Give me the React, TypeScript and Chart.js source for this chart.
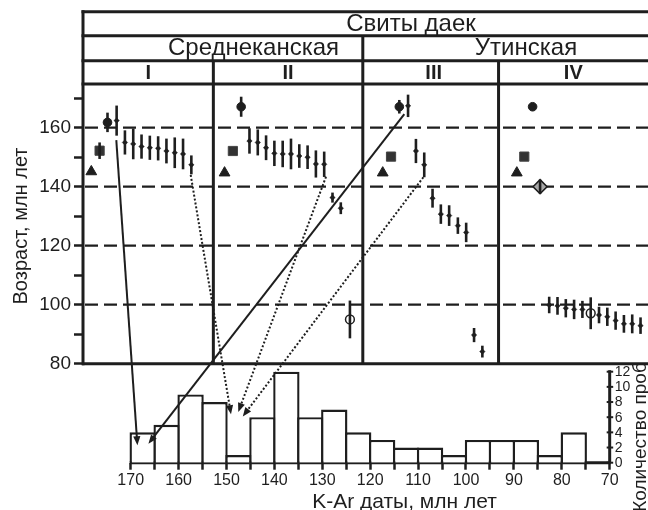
import React, { useEffect, useRef } from "react";
import { Chart, registerables } from "chart.js";

Chart.register(...registerables);

// ---------- Top panel: sample position along section, K-Ar age (Ma) ----------
const triX = [0.95, 17, 36.05, 52.2];
const triY = [145.1, 144.7, 144.7, 144.7];

const sqX = [1.95, 18, 37.05, 53.1];
const sqY = [152.2, 152.1, 150.2, 150.2];
const sqErr = [2.8, 0, 0, 0];

const circX = [2.9, 19, 38.05, 54.1];
const circY = [161.8, 167.1, 167.1, 167.1];
const circErr = [3.3, 3.4, 2.3, 0];

const ebX = [
  4, 5, 6, 7, 8, 9, 10, 11, 12, 13,
  20, 21, 22, 23, 24, 25, 26, 27, 28, 29, 30, 31,
  39.1, 40.05, 41.05, 42.05, 43.05, 44.05, 45.1, 46.1, 47.05, 48.05,
  56.1, 57.1, 58.1, 59.1, 60.1, 62.1, 63.1, 64.1, 65.1, 66.1, 67.1,
];
const ebY = [
  162.4, 155.0, 154.5, 153.6, 153.2, 153.0, 152.1, 151.5, 151.1, 147.4,
  155.5, 155.0, 153.2, 151.3, 151.1, 151.1, 150.4, 150.0, 147.7, 147.6, 136.3, 132.7,
  167.4, 152.1, 147.4, 136.1, 130.7, 130.2, 126.8, 124.5, 89.7, 84.1,
  99.9, 99.6, 98.8, 98.4, 98.4, 96.5, 95.9, 94.6, 93.5, 93.5, 92.9,
];
const ebErr = [
  5.1, 4.1, 5.2, 4.1, 4.1, 4.1, 4.2, 5.2, 5.2, 3.2,
  4.3, 4.4, 4.2, 4.3, 4.5, 5.2, 4.0, 4.0, 4.6, 4.3, 1.7, 2.0,
  3.8, 4.1, 4.2, 3.2, 3.3, 3.5, 2.8, 3.3, 2.4, 2.0,
  2.8, 3.0, 3.1, 3.3, 2.9, 2.8, 3.1, 3.1, 3.0, 3.2, 2.8,
];

const openX = [32.1, 61.1];
const openY = [95.0, 97.1];
const openErr = [6.4, 5.4];

const diaX = [55.0];
const diaY = [140.0];
const diaErr = [2.4];

// zone boundaries (sample-position units) and labels
const zoneEdges = [15.65, 33.65, 50];
const zoneLabels = ["I", "II", "III", "IV"];
const groupLabels = ["Среднеканская", "Утинская"];
const headerTitle = "Свиты даек";

const ageTickMarks = [80, 90, 100, 110, 120, 130, 140, 150, 160, 170];
const ageTickLabels = [80, 100, 120, 140, 160];
const dashedLevels = [100, 120, 140, 160];

// ---------- Histogram of K-Ar dates ----------
const binStart = [170, 165, 160, 155, 150, 145, 140, 135, 130, 125, 120, 115, 110, 105, 100, 95, 90, 85, 80, 75];
const binCounts = [4, 5, 9, 8, 1, 6, 12, 6, 7, 4, 3, 2, 2, 1, 3, 3, 3, 1, 4, 0];
const dateTickMarks = [70, 75, 80, 85, 90, 95, 100, 105, 110, 115, 120, 125, 130, 135, 140, 145, 150, 155, 160, 165, 170];
const dateTickLabels = [70, 80, 90, 100, 110, 120, 130, 140, 150, 160, 170];
const countTicks = [0, 2, 4, 6, 8, 10, 12];

// ---------- Connector arrows: from [position, age] to [date, count] ----------
const arrowFromPos = [3.96, 38.65, 12.92, 29.22, 40.94];
const arrowFromAge = [155.8, 164.6, 144.0, 143.4, 143.2];
const arrowToDate = [168.6, 166.3, 149.06, 147.54, 146.6];
const arrowToCount = [2.3, 2.5, 6.4, 6.7, 6.1];
const arrowDotted = [false, false, true, true, true];

const INK = "#1e1e1e";
const FONT = "'Liberation Sans', Arial, Helvetica, sans-serif";

const pts = (xs: number[], ys: number[]) => xs.map((x, i) => ({ x, y: ys[i] }));

function seg(ctx: CanvasRenderingContext2D, x1: number, y1: number, x2: number, y2: number) {
  ctx.beginPath();
  ctx.moveTo(x1, y1);
  ctx.lineTo(x2, y2);
  ctx.stroke();
}

const figurePlugin = {
  id: "figure",
  beforeDraw(chart: any) {
    const { ctx, width, height } = chart;
    ctx.save();
    ctx.fillStyle = "#fff";
    ctx.fillRect(0, 0, width, height);
    ctx.restore();
  },
  beforeDatasetsDraw(chart: any) {
    const { ctx, chartArea, scales } = chart;
    const xs = scales.x, ys = scales.y, x2s = scales.x2, y2s = scales.y2;
    const L = chartArea.left, R = chartArea.right, T = chartArea.top;
    const y80 = ys.getPixelForValue(80);
    ctx.save();
    ctx.strokeStyle = INK;
    // dashed level lines
    ctx.lineWidth = 2.3;
    ctx.setLineDash([13, 6]);
    for (const v of dashedLevels) {
      const py = ys.getPixelForValue(v);
      seg(ctx, L + 2, py, R, py);
    }
    ctx.setLineDash([]);
    // header table + frame
    ctx.lineWidth = 3;
    const rows = [11.7, 35.7, 60.7, T];
    for (const r of rows) seg(ctx, L - 1.5, r, R, r);
    seg(ctx, L, rows[0] - 1.5, L, y80 + 1.5);
    seg(ctx, L - 1, y80, R, y80);
    zoneEdges.forEach((e, i) => {
      const px = xs.getPixelForValue(e);
      seg(ctx, px, i === 1 ? rows[1] : rows[2], px, y80);
    });
    // histogram baseline
    const b0 = y2s.getPixelForValue(0);
    seg(ctx, x2s.getPixelForValue(170) - 1, b0, x2s.getPixelForValue(70) + 1, b0);
    // count axis
    const cx = x2s.getPixelForValue(70);
    seg(ctx, cx, b0, cx, y2s.getPixelForValue(12) - 1.5);
    ctx.lineWidth = 2;
    for (const c of countTicks) {
      const py = y2s.getPixelForValue(c);
      seg(ctx, cx - 3, py, cx + 3.5, py);
    }
    ctx.restore();
  },
  afterDatasetsDraw(chart: any) {
    const { ctx, scales } = chart;
    const xs = scales.x, ys = scales.y, x2s = scales.x2, y2s = scales.y2;
    ctx.save();
    ctx.strokeStyle = INK;
    ctx.fillStyle = INK;
    // error bars
    ctx.lineWidth = 2.6;
    chart.data.datasets.forEach((ds: any, i: number) => {
      if (!ds.err) return;
      const meta = chart.getDatasetMeta(i);
      meta.data.forEach((el: any, j: number) => {
        const e = ds.err[j];
        if (!e) return;
        const v = ds.data[j].y;
        seg(ctx, el.x, ys.getPixelForValue(v + e), el.x, ys.getPixelForValue(v - e));
      });
    });
    // connector arrows
    arrowFromPos.forEach((p, k) => {
      const x1 = xs.getPixelForValue(p);
      const y1 = ys.getPixelForValue(arrowFromAge[k]);
      const tx = x2s.getPixelForValue(arrowToDate[k]);
      const ty = y2s.getPixelForValue(arrowToCount[k]);
      const ang = Math.atan2(ty - y1, tx - x1);
      const head = 9, half = 3.6;
      const bx = tx - head * Math.cos(ang), by = ty - head * Math.sin(ang);
      ctx.lineWidth = 2;
      ctx.setLineDash(arrowDotted[k] ? [2, 2] : []);
      seg(ctx, x1, y1, bx + 2 * Math.cos(ang), by + 2 * Math.sin(ang));
      ctx.setLineDash([]);
      ctx.beginPath();
      ctx.moveTo(tx, ty);
      ctx.lineTo(bx + half * Math.sin(ang), by - half * Math.cos(ang));
      ctx.lineTo(bx - half * Math.sin(ang), by + half * Math.cos(ang));
      ctx.closePath();
      ctx.fill();
    });
    ctx.restore();
  },
  afterDraw(chart: any) {
    const { ctx, chartArea, scales } = chart;
    const xs = scales.x, x2s = scales.x2, y2s = scales.y2;
    const L = chartArea.left, R = chartArea.right;
    ctx.save();
    ctx.fillStyle = INK;
    ctx.textBaseline = "middle";
    ctx.textAlign = "center";
    // header
    ctx.font = `24px ${FONT}`;
    ctx.fillText(headerTitle, 411, 24.5);
    ctx.fillText(groupLabels[0], 253.5, 48.5);
    ctx.fillText(groupLabels[1], 526, 48.5);
    ctx.font = `bold 20px ${FONT}`;
    const edges = [L, ...zoneEdges.map((e) => xs.getPixelForValue(e)), R];
    zoneLabels.forEach((lab, i) => {
      ctx.fillText(lab, (edges[i] + edges[i + 1]) / 2 + (i === 2 ? 3 : 0), 73);
    });
    // y title
    ctx.font = `20px ${FONT}`;
    ctx.save();
    ctx.translate(21, 226);
    ctx.rotate(-Math.PI / 2);
    ctx.fillText("Возраст, млн лет", 0, 0);
    ctx.restore();
    // x2 title
    ctx.font = `21px ${FONT}`;
    ctx.textBaseline = "alphabetic";
    ctx.fillText("K-Ar даты, млн лет", 404.5, 508);
    // count axis labels
    const cx = x2s.getPixelForValue(70);
    ctx.font = `14px ${FONT}`;
    ctx.textAlign = "left";
    ctx.textBaseline = "middle";
    for (const c of countTicks) ctx.fillText(String(c), cx + 5, y2s.getPixelForValue(c) + 0.5);
    ctx.font = `19px ${FONT}`;
    ctx.textAlign = "center";
    ctx.save();
    ctx.translate(641, 437);
    ctx.rotate(-Math.PI / 2);
    ctx.fillText("Количество проб", 0, 0);
    ctx.restore();
    ctx.restore();
  },
};

export default function App() {
  const ref = useRef<HTMLCanvasElement | null>(null);
  useEffect(() => {
    if (!ref.current) return;
    const chart = new Chart(ref.current, {
      type: "scatter",
      data: {
        datasets: [
          {
            type: "bar",
            data: binStart.map((s, i) => ({ x: s - 2.5, y: binCounts[i] })),
            xAxisID: "x2",
            yAxisID: "y2",
            backgroundColor: "#ffffff",
            borderColor: INK,
            borderWidth: 2.4,
            borderSkipped: "bottom",
            grouped: false,
            categoryPercentage: 1,
            barPercentage: 1.1,
            order: 10,
          } as any,
          {
            data: pts(triX, triY),
            xAxisID: "x", yAxisID: "y",
            pointStyle: "triangle", pointRadius: 6.2,
            backgroundColor: INK, borderColor: INK, borderWidth: 1,
          },
          {
            data: pts(sqX, sqY), err: sqErr,
            xAxisID: "x", yAxisID: "y",
            pointStyle: "rect", pointRadius: 6.5,
            backgroundColor: "#333", borderColor: "#444", borderWidth: 1,
          } as any,
          {
            data: pts(circX, circY), err: circErr,
            xAxisID: "x", yAxisID: "y",
            pointStyle: "circle", pointRadius: 4.3,
            backgroundColor: INK, borderColor: INK, borderWidth: 1,
          } as any,
          {
            data: pts(ebX, ebY), err: ebErr,
            xAxisID: "x", yAxisID: "y",
            pointStyle: "rectRot", pointRadius: 2.7,
            backgroundColor: INK, borderColor: INK, borderWidth: 0.5,
          } as any,
          {
            data: pts(openX, openY), err: openErr,
            xAxisID: "x", yAxisID: "y",
            pointStyle: "circle", pointRadius: 4.4,
            backgroundColor: "rgba(255,255,255,0)", borderColor: INK, borderWidth: 1.5,
          } as any,
          {
            data: pts(diaX, diaY), err: diaErr,
            xAxisID: "x", yAxisID: "y",
            pointStyle: "rectRot", pointRadius: 7,
            backgroundColor: "#a8a8a8", borderColor: INK, borderWidth: 1.6,
          } as any,
        ],
      },
      options: {
        animation: false,
        responsive: false,
        devicePixelRatio: 1,
        events: [],
        layout: { autoPadding: false, padding: { top: 84, left: 0, right: 0, bottom: 0 } },
        plugins: { legend: { display: false }, tooltip: { enabled: false } },
        scales: {
          x: { type: "linear", display: false, min: -0.05, max: 68 },
          y: {
            type: "linear",
            position: "left",
            min: 46.44,
            max: 174.81,
            afterFit: (s: any) => { s.width = 83; },
            afterBuildTicks: (s: any) => { s.ticks = ageTickMarks.map((v) => ({ value: v })); },
            ticks: {
              autoSkip: false,
              padding: 3,
              color: INK,
              font: { family: FONT, size: 19 },
              callback: (v: any) => (ageTickLabels.includes(Number(v)) ? String(v) : ""),
            },
            grid: { drawOnChartArea: false, drawTicks: true, tickLength: 9, tickWidth: 2.5, tickColor: INK },
            border: { display: false },
          },
          x2: {
            type: "linear",
            position: "bottom",
            reverse: true,
            min: 62.0,
            max: 179.96,
            offset: false,
            afterFit: (s: any) => { s.height = 47.3; },
            afterBuildTicks: (s: any) => { s.ticks = dateTickMarks.map((v) => ({ value: v })); },
            ticks: {
              autoSkip: false,
              maxRotation: 0,
              minRotation: 0,
              padding: 1,
              color: INK,
              font: { family: FONT, size: 16 },
              callback: (v: any) => (dateTickLabels.includes(Number(v)) ? String(v) : ""),
            },
            grid: { drawOnChartArea: false, drawTicks: true, tickLength: 7, tickWidth: 2.5, tickColor: INK, offset: false },
            border: { display: false },
          },
          y2: { type: "linear", position: "right", display: false, min: 0, max: 49.94 },
        },
      } as any,
      plugins: [figurePlugin],
    });
    return () => chart.destroy();
  }, []);
  return (
    <div style={{ position: "absolute", left: 0, top: 0, width: 648, height: 510, background: "#fff" }}>
      <canvas ref={ref} width={648} height={510} style={{ display: "block" }} />
    </div>
  );
}
